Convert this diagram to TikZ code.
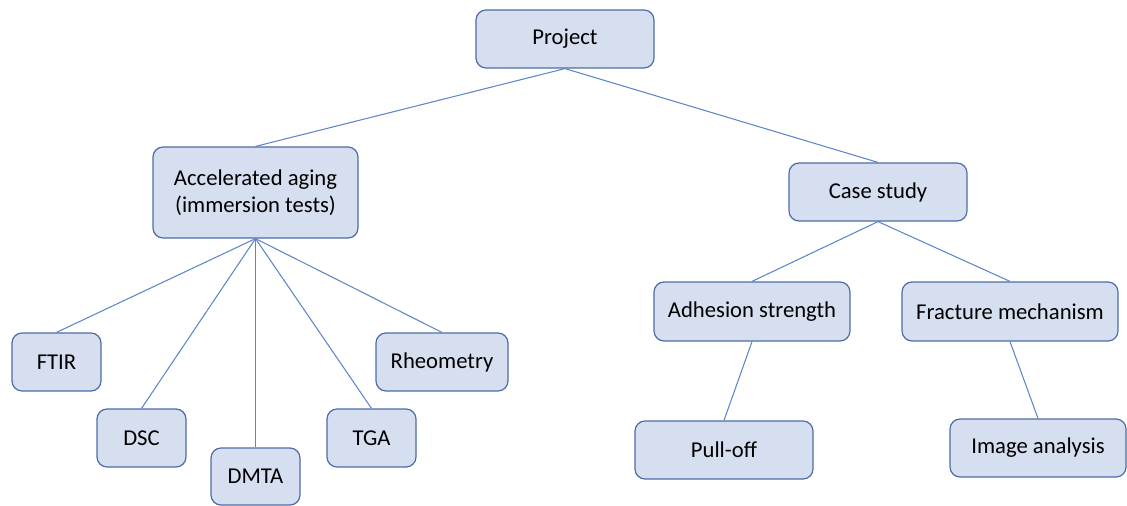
\documentclass[tikz,border=0pt]{standalone}
\usepackage{fontspec}
\setmainfont{Carlito}
\usepackage{tikz}
\usetikzlibrary{shapes}

\definecolor{boxfill}{RGB}{214,223,240}
\definecolor{boxline}{RGB}{78,108,168}
\definecolor{linkline}{RGB}{95,135,200}

\begin{document}
\begin{tikzpicture}[x=0.75pt,y=-0.75pt,
  box/.style={draw=boxline,line width=0.9pt,fill=boxfill,rounded corners=7.5pt,
    minimum height=43.5pt,inner sep=0pt,align=center,font=\fontsize{17}{20.5}\selectfont},
  link/.style={draw=linkline,line width=0.8pt}]

\useasboundingbox (0,0) rectangle (1127,506);

\node (Project) at (565,39)[box,minimum width=133.5pt] {Project};
\node (Aging) at (255.5,192.5)[box,minimum width=153.75pt,minimum height=68.25pt] {Accelerated aging\\(immersion tests)};
\node (Case) at (878,192)[box,minimum width=133.5pt] {Case study};
\node (FTIR) at (56.5,362)[box,minimum width=66.75pt] {FTIR};
\node (DSC) at (141.5,438)[box,minimum width=66.75pt] {DSC};
\node (DMTA) at (255.5,476.5)[box,minimum width=66.75pt,minimum height=42.75pt] {DMTA};
\node (TGA) at (371.5,438)[box,minimum width=66.75pt] {TGA};
\node (Rheo) at (442,362)[box,minimum width=99pt] {Rheometry};
\node (Adhesion) at (752,311.5)[box,minimum width=147pt,minimum height=44.25pt] {Adhesion strength};
\node (Fracture) at (1010,311.5)[box,minimum width=162pt,minimum height=44.25pt] {Fracture mechanism};
\node (Pull) at (724,450)[box,minimum width=133.5pt] {Pull-off};
\node (Image) at (1038,448)[box,minimum width=132pt] {Image analysis};

\draw [link] (Project.south) -- (Aging.north);
\draw [link] (Project.south) -- (Case.north);
\draw [link] (Aging.south) -- (FTIR.north);
\draw [link] (Aging.south) -- (DSC.north);
\draw [link] (Aging.south) -- (DMTA.north);
\draw [link] (Aging.south) -- (TGA.north);
\draw [link] (Aging.south) -- (Rheo.north);
\draw [link] (Case.south) -- (Adhesion.north);
\draw [link] (Case.south) -- (Fracture.north);
\draw [link] (Adhesion.south) -- (Pull.north);
\draw [link] (Fracture.south) -- (Image.north);
\end{tikzpicture}
\end{document}
